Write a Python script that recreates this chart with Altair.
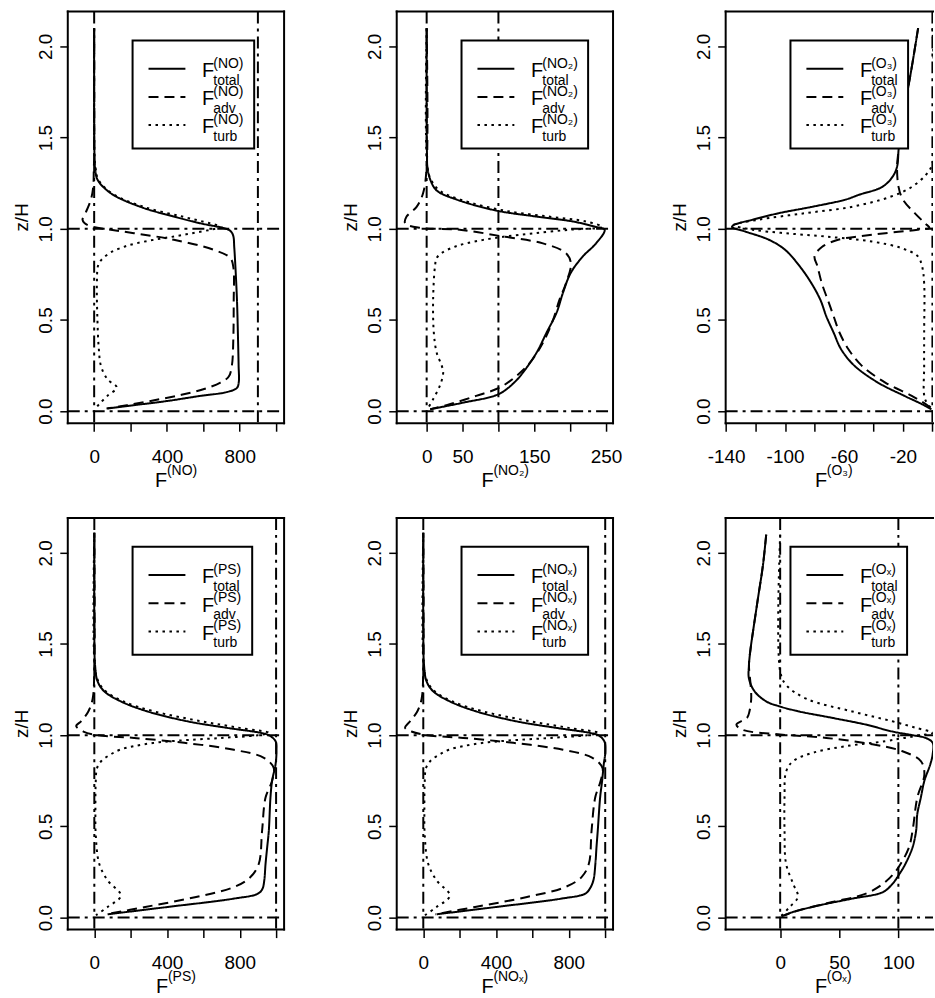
import altair as alt
import pandas as pd

FONT = "Liberation Sans"

# ---------------- values (z/H, flux) ----------------
# NO
NO_TOTAL_Z = [2.10, 1.60, 1.40, 1.33, 1.27, 1.195, 1.12, 1.067, 1.03, 1.00, 0.985, 0.96, 0.90, 0.80, 0.61, 0.43, 0.25, 0.16, 0.128, 0.105, 0.084, 0.056, 0.033, 0.015]
NO_TOTAL_F = [0, 0, 2, 6, 18, 91, 255, 438, 584, 725, 752, 765, 770, 776, 785, 790, 794, 795, 785, 730, 584, 402, 219, 73]
NO_ADV_Z = [2.10, 1.40, 1.33, 1.23, 1.16, 1.09, 1.05, 1.03, 1.01, 0.995, 0.976, 0.94, 0.885, 0.84, 0.79, 0.60, 0.40, 0.25, 0.19, 0.157, 0.12, 0.09, 0.06, 0.033, 0.015]
NO_ADV_F = [0, 0, -2, -5, -18, -46, -64, -52, -5, 91, 219, 438, 657, 748, 765, 767, 765, 757, 740, 694, 600, 480, 330, 180, 68]
NO_TURB_Z = [2.10, 1.40, 1.33, 1.27, 1.195, 1.12, 1.067, 1.03, 1.01, 0.995, 0.976, 0.958, 0.94, 0.92, 0.90, 0.87, 0.83, 0.80, 0.70, 0.50, 0.35, 0.25, 0.175, 0.13, 0.084, 0.038, 0.01]
NO_TURB_F = [0, 2, 8, 23, 96, 273, 484, 636, 700, 640, 540, 440, 330, 230, 160, 90, 40, 22, 15, 18, 25, 37, 73, 124, 73, 27, 5]

# NO2
NO2_TOTAL_Z = [2.10, 1.60, 1.40, 1.34, 1.27, 1.21, 1.16, 1.10, 1.067, 1.04, 1.01, 0.995, 0.92, 0.85, 0.76, 0.65, 0.54, 0.43, 0.32, 0.211, 0.157, 0.093, 0.047, 0.011]
NO2_TOTAL_F = [0, 0, 0.5, 1, 5, 14, 42, 97, 153, 204, 236, 248, 236, 218, 201, 190, 181, 167, 153, 134, 122, 100, 51, 5]
NO2_ADV_Z = [2.10, 1.34, 1.195, 1.12, 1.067, 1.03, 1.005, 0.995, 0.958, 0.92, 0.867, 0.81, 0.70, 0.61, 0.50, 0.375, 0.266, 0.193, 0.13, 0.084, 0.038, 0.011]
NO2_ADV_F = [0, 0, -5, -14, -28, -30, -8, 46, 106, 162, 194, 201, 194, 185, 176, 162, 144, 125, 102, 69, 32, 5]
NO2_TURB_Z = [2.10, 1.34, 1.27, 1.21, 1.16, 1.10, 1.067, 1.04, 1.01, 0.995, 0.976, 0.958, 0.94, 0.92, 0.90, 0.87, 0.84, 0.794, 0.61, 0.43, 0.32, 0.25, 0.21, 0.14, 0.066, 0.01]
NO2_TURB_F = [0, 1, 6, 18, 47, 108, 170, 222, 245, 200, 150, 110, 80, 55, 38, 22, 14, 11.6, 9, 10, 14, 21, 23, 18.5, 9, 1]

# O3
O3_TOTAL_Z = [2.10, 1.887, 1.705, 1.52, 1.43, 1.34, 1.286, 1.23, 1.186, 1.16, 1.12, 1.086, 1.05, 1.02, 1.01, 0.985, 0.94, 0.885, 0.794, 0.70, 0.61, 0.52, 0.43, 0.34, 0.25, 0.157, 0.084, 0.038, 0.01]
O3_TOTAL_F = [-9.7, -14, -18, -22, -23, -24, -27, -34, -50, -59, -82, -104, -122, -135, -136, -127, -111, -100, -90, -82, -76, -72, -67, -62, -53, -37, -19, -7, -0.7]
O3_ADV_Z = [2.10, 1.887, 1.705, 1.52, 1.43, 1.34, 1.23, 1.16, 1.086, 1.03, 1.005, 0.995, 0.976, 0.958, 0.94, 0.90, 0.85, 0.794, 0.70, 0.61, 0.52, 0.43, 0.34, 0.25, 0.157, 0.084, 0.03, 0.005]
O3_ADV_F = [-9.7, -14, -18, -22, -23, -24, -23, -20, -12, -5, -2, -10, -32, -50, -64, -75, -80, -78, -75, -71, -67, -63, -57, -48, -32, -14, -3, 0]
O3_TURB_Z = [2.10, 1.36, 1.30, 1.23, 1.177, 1.12, 1.086, 1.05, 1.02, 0.995, 0.976, 0.958, 0.93, 0.894, 0.85, 0.794, 0.70, 0.43, 0.25, 0.066, 0.01]
O3_TURB_F = [0, 0, -4, -14, -28, -55, -86, -118, -135, -122, -100, -73, -41, -21, -10, -7, -5.6, -5.6, -5.6, -5, 0]

# PS
PS_TOTAL_Z = [2.11, 1.60, 1.385, 1.295, 1.24, 1.185, 1.13, 1.076, 1.04, 1.013, 1.00, 0.967, 0.913, 0.84, 0.75, 0.658, 0.476, 0.385, 0.295, 0.204, 0.158, 0.131, 0.104, 0.058, 0.018]
PS_TOTAL_F = [0, 0, 4, 18, 55, 146, 293, 512, 731, 914, 960, 997, 1002, 997, 978, 969, 960, 951, 942, 935, 925, 900, 768, 402, 73]
PS_ADV_Z = [2.11, 1.385, 1.20, 1.13, 1.076, 1.05, 1.02, 1.00, 0.985, 0.958, 0.92, 0.876, 0.82, 0.75, 0.658, 0.476, 0.295, 0.222, 0.167, 0.113, 0.058, 0.018]
PS_ADV_F = [0, 0, -9, -33, -73, -100, -60, 18, 219, 494, 768, 933, 987, 978, 942, 923, 905, 859, 768, 560, 280, 65]
PS_TURB_Z = [2.11, 1.385, 1.295, 1.24, 1.185, 1.13, 1.076, 1.04, 1.013, 1.00, 0.985, 0.97, 0.958, 0.94, 0.92, 0.895, 0.86, 0.82, 0.75, 0.60, 0.45, 0.295, 0.204, 0.12, 0.058, 0.013]
PS_TURB_F = [0, 2, 22, 64, 160, 330, 590, 800, 960, 900, 700, 460, 330, 219, 140, 91, 40, 15, 8, 6, 8, 27, 73, 146, 73, 9]

# NOx
NOX_TOTAL_Z = [2.11, 1.60, 1.385, 1.295, 1.24, 1.185, 1.13, 1.076, 1.04, 1.013, 1.00, 0.967, 0.913, 0.84, 0.75, 0.658, 0.476, 0.385, 0.295, 0.204, 0.158, 0.131, 0.104, 0.058, 0.018]
NOX_TOTAL_F = [0, 0, 4, 18, 55, 146, 292, 511, 731, 913, 962, 995, 1001, 992, 983, 972, 959, 952, 946, 935, 915, 890, 760, 400, 73]
NOX_ADV_Z = [2.11, 1.385, 1.20, 1.13, 1.076, 1.04, 1.02, 1.00, 0.985, 0.958, 0.92, 0.876, 0.82, 0.75, 0.658, 0.476, 0.295, 0.222, 0.167, 0.113, 0.058, 0.018]
NOX_ADV_F = [0, 0, -9, -33, -73, -100, -65, 18, 219, 494, 768, 930, 985, 975, 945, 925, 910, 870, 780, 570, 285, 65]
NOX_TURB_Z = [2.11, 1.385, 1.295, 1.24, 1.185, 1.13, 1.076, 1.04, 1.013, 1.00, 0.985, 0.97, 0.958, 0.94, 0.92, 0.895, 0.86, 0.82, 0.75, 0.60, 0.45, 0.295, 0.204, 0.12, 0.058, 0.013]
NOX_TURB_F = [0, 2, 22, 64, 160, 330, 590, 800, 960, 900, 700, 460, 330, 219, 140, 91, 40, 15, 8, 6, 8, 27, 73, 146, 73, 9]

# Ox
OX_TOTAL_Z = [2.10, 1.93, 1.75, 1.567, 1.476, 1.385, 1.31, 1.24, 1.185, 1.158, 1.13, 1.095, 1.058, 1.02, 1.00, 0.985, 0.958, 0.895, 0.84, 0.75, 0.658, 0.567, 0.476, 0.385, 0.295, 0.24, 0.185, 0.14, 0.104, 0.067, 0.031, 0.013]
OX_TOTAL_F = [-11.8, -14.6, -18.8, -23, -25, -26.4, -26.4, -21.6, -11.8, -0.6, 16, 44, 72.5, 95, 112, 123, 129, 129, 127, 122, 119, 116, 115, 112, 106, 101, 95, 87, 61, 33, 11, 3.7]
OX_ADV_Z = [2.10, 1.93, 1.75, 1.567, 1.476, 1.385, 1.276, 1.20, 1.13, 1.095, 1.058, 1.03, 1.004, 0.985, 0.95, 0.913, 0.858, 0.785, 0.658, 0.476, 0.385, 0.295, 0.24, 0.185, 0.13, 0.085, 0.04, 0.007]
OX_ADV_F = [-11.8, -14.6, -18.8, -23, -25, -26.4, -25, -24.5, -26, -28, -37, -32, 0, 39, 78, 103, 119, 122, 116, 112, 109, 102, 96, 87, 72, 44, 16, 1]
OX_TURB_Z = [2.10, 1.35, 1.276, 1.20, 1.13, 1.076, 1.04, 1.013, 1.00, 0.985, 0.967, 0.94, 0.904, 0.858, 0.80, 0.658, 0.476, 0.295, 0.185, 0.113, 0.058, 0.01]
OX_TURB_F = [0, 0, 5, 22, 61, 95, 115, 129, 120, 105, 89, 56, 28, 11, 5, 3.7, 3.7, 5, 11, 15, 8, 1]

Y_TICKS = [0.0, 0.5, 1.0, 1.5, 2.0]
HLINES = [0.0, 1.0]
COMPONENTS = ["total", "adv", "turb"]

PANELS = [
    dict(sup="(NO)", curves=[(NO_TOTAL_Z, NO_TOTAL_F), (NO_ADV_Z, NO_ADV_F), (NO_TURB_Z, NO_TURB_F)],
         domain=[-145, 1044], ticks=[0, 200, 400, 600, 800, 1000], labels=[0, 400, 800], vlines=[0, 900],
         width=217, cut=False, legend_w=122, sup_w=30),
    dict(sup="(NO\u2082)", curves=[(NO2_TOTAL_Z, NO2_TOTAL_F), (NO2_ADV_Z, NO2_ADV_F), (NO2_TURB_Z, NO2_TURB_F)],
         domain=[-41.7, 259.7], ticks=[0, 50, 100, 150, 200, 250], labels=[0, 50, 150, 250], vlines=[0, 100],
         width=217, cut=False, legend_w=127, sup_w=35),
    dict(sup="(O\u2083)", curves=[(O3_TOTAL_Z, O3_TOTAL_F), (O3_ADV_Z, O3_ADV_F), (O3_TURB_Z, O3_TURB_F)],
         domain=[-140.3, 0.4], ticks=[-140, -120, -100, -80, -60, -40, -20, 0], labels=[-140, -100, -60, -20], vlines=[0],
         width=208, cut=True, legend_w=118, sup_w=26, full_w=217),
    dict(sup="(PS)", curves=[(PS_TOTAL_Z, PS_TOTAL_F), (PS_ADV_Z, PS_ADV_F), (PS_TURB_Z, PS_TURB_F)],
         domain=[-146, 1044], ticks=[0, 200, 400, 600, 800, 1000], labels=[0, 400, 800], vlines=[0, 1000],
         width=217, cut=False, legend_w=120, sup_w=28),
    dict(sup="(NO\u2093)", curves=[(NOX_TOTAL_Z, NOX_TOTAL_F), (NOX_ADV_Z, NOX_ADV_F), (NOX_TURB_Z, NOX_TURB_F)],
         domain=[-146, 1043], ticks=[0, 200, 400, 600, 800, 1000], labels=[0, 400, 800], vlines=[0, 1000],
         width=217, cut=False, legend_w=127, sup_w=35),
    dict(sup="(O\u2093)", curves=[(OX_TOTAL_Z, OX_TOTAL_F), (OX_ADV_Z, OX_ADV_F), (OX_TURB_Z, OX_TURB_F)],
         domain=[-46.1, 129.3], ticks=[0, 50, 100], labels=[0, 50, 100], vlines=[0, 100],
         width=208, cut=True, legend_w=117, sup_w=26, full_w=217),
]

H = 413
Y_DOMAIN = [-0.066, 2.191]
LW = 2
DASHED = [10, 6]
DOTTED = [2.5, 4.5]
DASHDOT = [12, 5, 3, 5]
STYLE_RANGE = [[1, 0], DASHED, DOTTED]


def one_row():
    return pd.DataFrame({"k": [0]})


def build_panel(p):
    W = p["width"]
    xs = alt.Scale(domain=p["domain"], nice=False, zero=False)
    ys = alt.Scale(domain=Y_DOMAIN, nice=False, zero=False)
    lab = ",".join(str(v) for v in p["labels"])
    x_axis = alt.Axis(values=p["ticks"], labelExpr=f"indexof([{lab}], datum.value) >= 0 ? '' + datum.value : ''",
                      title="", grid=False, domain=False, tickSize=8, tickWidth=1.5, tickColor="black",
                      labelFont=FONT, labelFontSize=19, labelColor="black", labelPadding=31,
                      labelBaseline="alphabetic", labelOverlap=False, labelFlush=False)
    y_axis = alt.Axis(values=Y_TICKS, format=".1f", title="", grid=False, domain=False, tickSize=8, tickWidth=1.5,
                      tickColor="black", labelFont=FONT, labelFontSize=19, labelColor="black", labelAngle=-90,
                      labelAlign="center", labelBaseline="alphabetic", labelPadding=8, labelOverlap=False,
                      labelFlush=False)
    X = alt.X("F:Q", scale=xs, axis=x_axis)
    Y = alt.Y("z:Q", scale=ys, axis=y_axis)

    frames = []
    for comp, (zz, ff) in zip(COMPONENTS, p["curves"]):
        frames.append(pd.DataFrame({"z": zz, "F": ff, "comp": comp, "i": list(range(len(zz)))}))
    df = pd.concat(frames, ignore_index=True)

    layers = []
    # reference lines
    layers.append(alt.Chart(pd.DataFrame({"z": HLINES})).mark_rule(
        color="black", strokeWidth=LW, strokeDash=DASHDOT, clip=True).encode(
        y=Y, x=alt.value(0), x2=alt.value(W)))
    layers.append(alt.Chart(pd.DataFrame({"F": p["vlines"]})).mark_rule(
        color="black", strokeWidth=LW, strokeDash=DASHDOT, clip=True).encode(
        x=X, y=alt.value(0), y2=alt.value(H)))
    # curves
    layers.append(alt.Chart(df).mark_line(color="black", strokeWidth=LW, clip=True,
                                          interpolate="catmull-rom").encode(
        x=X, y=Y,
        strokeDash=alt.StrokeDash("comp:N", scale=alt.Scale(domain=COMPONENTS, range=STYLE_RANGE), legend=None),
        order=alt.Order("i:Q")))
    # frame
    border = dict(color="black", strokeWidth=LW, strokeCap="square")
    layers.append(alt.Chart(one_row()).mark_rule(**border).encode(x=alt.value(0), y=alt.value(0), y2=alt.value(H)))
    layers.append(alt.Chart(one_row()).mark_rule(**border).encode(x=alt.value(0), x2=alt.value(W), y=alt.value(0)))
    layers.append(alt.Chart(one_row()).mark_rule(**border).encode(x=alt.value(0), x2=alt.value(W), y=alt.value(H)))
    if not p["cut"]:
        layers.append(alt.Chart(one_row()).mark_rule(**border).encode(x=alt.value(W), y=alt.value(0), y2=alt.value(H)))

    # legend
    bx, by, bh = 65, 29, 108.3
    layers.append(alt.Chart(one_row()).mark_rect(fill="white", stroke="black", strokeWidth=LW).encode(
        x=alt.value(bx), x2=alt.value(bx + p["legend_w"]), y=alt.value(by), y2=alt.value(by + bh)))
    subs = ["total", "adv", "turb"]
    for k, (sub, dash) in enumerate(zip(subs, STYLE_RANGE)):
        cy = by + 28.3 * (k + 1)
        rule_kw = dict(color="black", strokeWidth=LW)
        if k > 0:
            rule_kw["strokeDash"] = dash
        layers.append(alt.Chart(one_row()).mark_rule(**rule_kw).encode(
            x=alt.value(bx + 16), x2=alt.value(bx + 53), y=alt.value(cy)))
        layers.append(alt.Chart(one_row()).mark_text(text="F", font=FONT, fontSize=20, align="left",
                                                     baseline="alphabetic", color="black").encode(
            x=alt.value(bx + 69.7), y=alt.value(cy + 8.4)))
        layers.append(alt.Chart(one_row()).mark_text(text=p["sup"], font=FONT, fontSize=14, align="left",
                                                     baseline="alphabetic", color="black").encode(
            x=alt.value(bx + 81), y=alt.value(cy - 1)))
        layers.append(alt.Chart(one_row()).mark_text(text=sub, font=FONT, fontSize=14, align="left",
                                                     baseline="alphabetic", color="black").encode(
            x=alt.value(bx + 81), y=alt.value(cy + 16)))

    # axis titles
    cx = p.get("full_w", W) / 2
    fx = cx - (12 + p["sup_w"]) / 2
    layers.append(alt.Chart(one_row()).mark_text(text="F", font=FONT, fontSize=20, align="left",
                                                 baseline="alphabetic", color="black").encode(
        x=alt.value(fx), y=alt.value(H + 64)))
    layers.append(alt.Chart(one_row()).mark_text(text=p["sup"], font=FONT, fontSize=14, align="left",
                                                 baseline="alphabetic", color="black").encode(
        x=alt.value(fx + 12), y=alt.value(H + 52)))
    layers.append(alt.Chart(one_row()).mark_text(text="z/H", font=FONT, fontSize=19, align="center",
                                                 baseline="alphabetic", angle=270, color="black").encode(
        x=alt.value(-40), y=alt.value(H / 2)))

    return alt.layer(*layers).properties(width=W, height=H)


panels = [build_panel(p) for p in PANELS]
chart = alt.concat(*panels, columns=3, spacing={"row": 95, "column": 113}, bounds="flush").properties(
    padding={"left": 12, "top": 8, "right": 0, "bottom": -4},
    background="white",
).configure_view(stroke="transparent")

chart.save("out.html", embed_options={"renderer": "svg", "actions": False})
